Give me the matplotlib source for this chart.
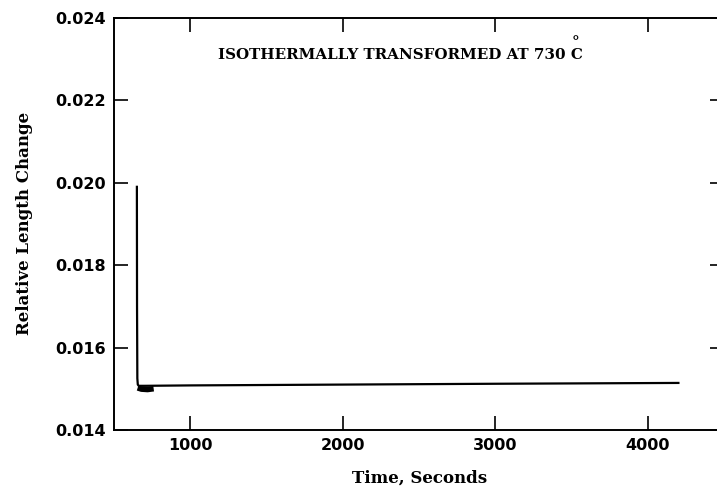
import matplotlib.pyplot as plt

time_s = [650, 651, 653, 656, 662, 700, 1000, 2000, 3000, 4200]
rel_len = [0.0199, 0.0170, 0.01525, 0.01510, 0.01507, 0.01507, 0.01508, 0.01510, 0.01512, 0.01514]

# thick settling region near the start
blob_t = [655, 680, 720, 760]
blob_v = [0.01502, 0.01499, 0.01498, 0.01500]

x_ticks = [1000, 2000, 3000, 4000]
y_ticks = [0.014, 0.016, 0.018, 0.020, 0.022, 0.024]
y_labels = ['0.014', '0.016', '0.018', '0.020', '0.022', '0.024']

fig = plt.figure(figsize=(7.17, 4.97), dpi=100)
ax = fig.add_axes([0.159, 0.135, 0.851, 0.829])

ax.plot(time_s, rel_len, color='black', lw=1.6)
ax.plot(blob_t, blob_v, color='black', lw=4, solid_capstyle='butt')

ax.set_xlim(500, 4500)
ax.set_ylim(0.014, 0.024)
ax.set_xticks(x_ticks)
ax.set_yticks(y_ticks)
ax.set_yticklabels(y_labels)

ax.tick_params(direction='in', length=10, width=1.2, top=True, right=True,
               labelsize=11.5, pad=6)
for lab in ax.get_xticklabels() + ax.get_yticklabels():
    lab.set_fontweight('bold')
    lab.set_family('DejaVu Sans')
for sp in ax.spines.values():
    sp.set_linewidth(1.4)

ax.set_xlabel('Time, Seconds', family='DejaVu Serif', fontweight='bold',
              fontsize=12, labelpad=12)
ax.set_ylabel('Relative Length Change', family='DejaVu Serif', fontweight='bold',
              fontsize=12, labelpad=16)

ax.text(0.769, 0.91, 'ISOTHERMALLY TRANSFORMED AT 730 C', transform=ax.transAxes,
        ha='right', va='center', family='DejaVu Serif', fontweight='bold',
        fontsize=10.9)
# degree sign sits above the C in the original
ax.text(0.757, 0.941, '\u00b0', transform=ax.transAxes, ha='center', va='center',
        family='DejaVu Serif', fontweight='bold', fontsize=11)

fig.savefig('out.png', dpi=100)
